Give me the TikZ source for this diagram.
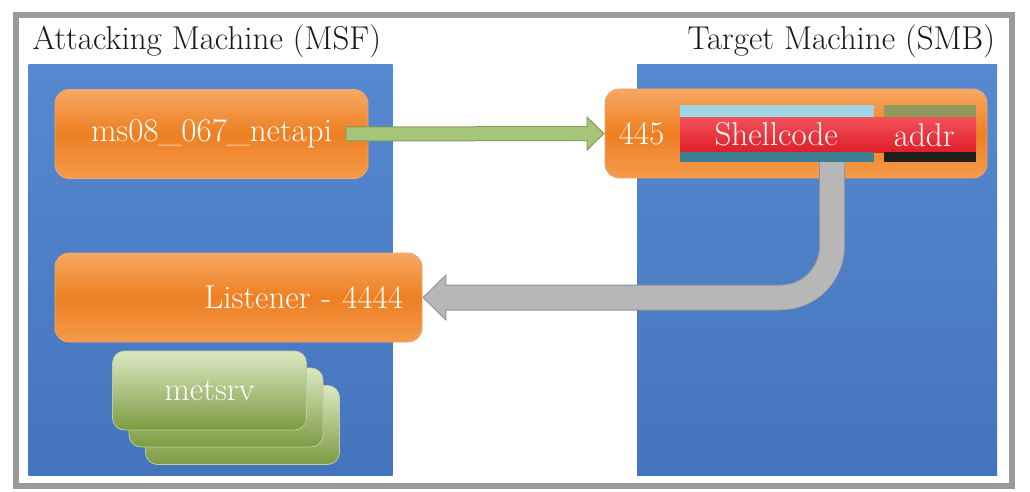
\documentclass[tikz,border=0pt]{standalone}
\usetikzlibrary{positioning}
\usetikzlibrary{arrows.meta}
\usetikzlibrary{shadows}

\definecolor{framegray}{HTML}{9A9A9A}
\definecolor{paneltop}{HTML}{5689D0}
\definecolor{panelbottom}{HTML}{4474BC}
\definecolor{orangetop}{HTML}{F7A862}
\definecolor{orangemid}{HTML}{EE7F22}
\definecolor{orangebottom}{HTML}{F59A4A}
\definecolor{orangeedge}{HTML}{E8A774}
\definecolor{greentop}{HTML}{DCE8C2}
\definecolor{greenbottom}{HTML}{7C9B42}
\definecolor{greenedge}{HTML}{B9CFA0}
\definecolor{arrowgreen}{HTML}{A6C47A}
\definecolor{arrowgreendark}{HTML}{7F9E57}
\definecolor{arrowgray}{HTML}{B7B7B7}
\definecolor{arrowgraydark}{HTML}{8A93A0}
\definecolor{barcyan}{HTML}{9FD6E6}
\definecolor{barolive}{HTML}{8F9A5C}
\definecolor{barteal}{HTML}{3D7D92}
\definecolor{barblack}{HTML}{1F1F1A}
\definecolor{redtop}{HTML}{F4505A}
\definecolor{redbottom}{HTML}{DE1E28}

\begin{document}
\begin{tikzpicture}[x=1pt,y=-1pt,
    frame/.style={rectangle,fill=white,draw=framegray,line width=6pt,
        drop shadow={shadow xshift=3pt,shadow yshift=-3pt,opacity=0.45},
        minimum width=996pt,minimum height=470pt,inner sep=0pt},
    panel/.style={rectangle,top color=paneltop,bottom color=panelbottom,
        minimum width=364pt,minimum height=410pt,inner sep=0pt},
    title/.style={inner sep=0pt,text=black!90,font=\fontsize{33}{38}\selectfont},
    orangebox/.style={rectangle,rounded corners=14pt,top color=orangetop,
        bottom color=orangebottom,middle color=orangemid,draw=orangeedge,
        line width=0.8pt,text=white,font=\fontsize{33}{38}\selectfont,
        minimum height=89pt,inner sep=0pt},
    greenbox/.style={rectangle,rounded corners=12pt,top color=greentop,
        bottom color=greenbottom,draw=greenedge,line width=0.8pt,
        text=white,font=\fontsize{33}{38}\selectfont,
        minimum width=194pt,minimum height=79pt,inner sep=0pt},
    bar/.style={rectangle,inner sep=0pt,anchor=north west},
    redbar/.style={bar,top color=redtop,bottom color=redbottom,text=white,
        font=\fontsize{33}{38}\selectfont,minimum height=35pt},
    boxtext/.style={inner sep=0pt,text=white,font=\fontsize{33}{38}\selectfont}]

    % \draw [help lines] (0,0) grid (1030,492);
    \useasboundingbox (0,0) rectangle (1030,492);

    \path   (514,250.5) node (frame) [frame] {}

            (210.5,270) node (attacker) [panel] {}
            (817,270) node (victim) [panel,minimum width=360pt] {}

            (211.5,134) node (netapi) [orangebox,minimum width=313pt] {ms08\_067\_netapi}
            (796,133.5) node (target) [orangebox,minimum width=382pt] {}
            (238.5,297.5) node (listener) [orangebox,text width=329pt,align=right,inner xsep=19pt] {Listener - 4444}

            (242.5,425) node (metsrvback) [greenbox] {}
            (226,407.5) node (metsrvmid) [greenbox] {}
            (209.5,390.5) node (metsrv) [greenbox] {metsrv};

    \node [title,above right=7pt and 4pt of attacker.north west] (attackertitle) {Attacking Machine (MSF)};
    \node [title,above left=7pt and 2pt of victim.north east] (victimtitle) {Target Machine (SMB)};

    % exploit sent to port 445
    \draw[line width=15pt,arrowgreendark,arrows = -{Triangle[length=18pt,width=35pt,line width=1pt,fill=arrowgreen]}] ([xshift=-23pt]netapi.east) -- (target.west);
    \draw[line width=13pt,arrowgreen,shorten >=16pt] ([xshift=-22pt]netapi.east) -- (target.west);

    % payload connects back
    \coordinate (tail) at (832,150);
    \draw[line width=26pt,arrowgraydark,rounded corners=52pt,arrows = -{Triangle[length=24pt,width=47pt,line width=1pt,fill=arrowgray]}] (tail) |- (listener.east);
    \draw[line width=24pt,arrowgray,rounded corners=51pt,shorten >=22pt] ([yshift=1pt]tail) |- (listener.east);

    \path   (680,105) node (shellpad) [bar,fill=barcyan,minimum width=194pt,minimum height=12pt] {}
            (884,105) node (addrpad) [bar,fill=barolive,minimum width=92pt,minimum height=12pt] {}
            (680,117) node (shellcode) [redbar,minimum width=192pt] {Shellcode}
            (872,117) node (addr) [redbar,minimum width=104pt] {addr}
            (680,152) node (shellbottom) [bar,fill=barteal,minimum width=194pt,minimum height=10pt] {}
            (884,152) node (addrbottom) [bar,fill=barblack,minimum width=92pt,minimum height=10pt] {};

    \node [boxtext,right=14pt of target.west] (port) {445};
\end{tikzpicture}
\end{document}
